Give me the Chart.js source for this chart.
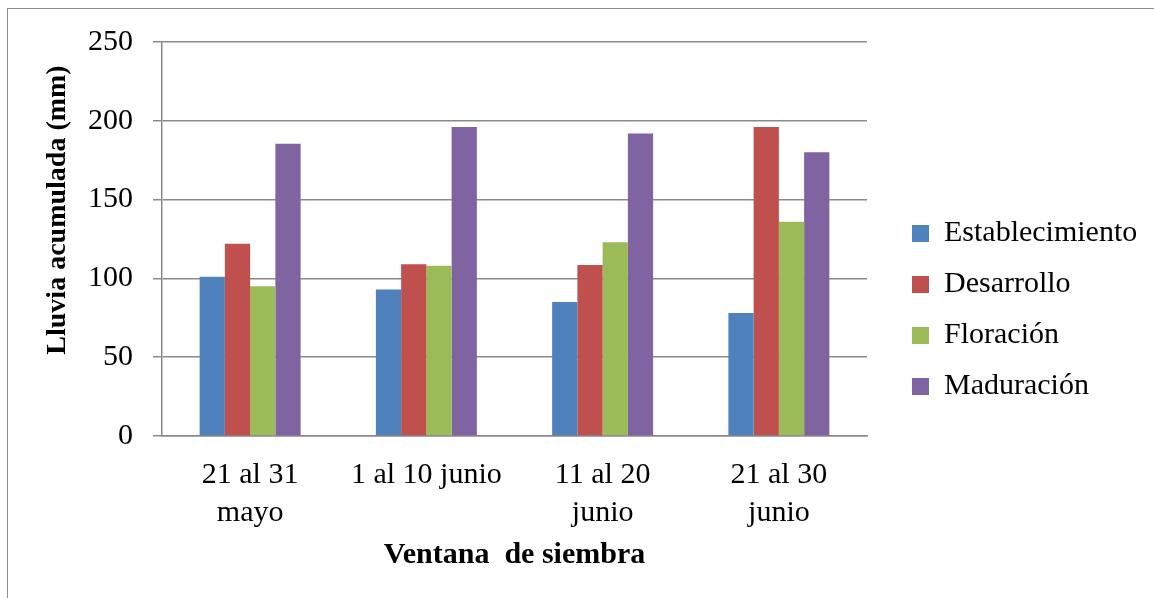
<!DOCTYPE html>
<html>
<head>
<meta charset="utf-8">
<script src="https://cdn.jsdelivr.net/npm/chart.js@4/dist/chart.umd.min.js"></script>
<style>
  html, body { margin: 0; padding: 0; background: #fff; overflow: hidden; }
  #wrap { position: relative; width: 1154px; height: 598px; }
  #frame { position: absolute; left: 7px; top: 8px; width: 1200px; height: 700px;
           border: 1.5px solid #8c8c8c; box-sizing: border-box; }
  canvas { position: absolute; left: 0; top: 0; }
</style>
</head>
<body>
<div id="wrap">
  <div id="frame"></div>
  <canvas id="chart" width="1154" height="598"></canvas>
</div>
<script>
// Sowing windows (x categories)
const categories = [["21 al 31", "mayo"], "1 al 10 junio", ["11 al 20", "junio"], ["21 al 30", "junio"]];
// Accumulated rainfall (mm) per crop stage
const establecimiento = [101, 93, 85, 78];
const desarrollo      = [122, 109, 108.5, 196];
const floracion       = [95, 108, 123, 136];
const maduracion      = [185.5, 196, 192, 180];
const seriesNames = ["Establecimiento", "Desarrollo", "Floración", "Maduración"];
const yTitle = "Lluvia acumulada (mm)";
const xTitle = "Ventana  de siembra";

const FONT = "'Liberation Serif', 'Times New Roman', serif";
const GRID = "#8a8a8a";

// Layout constants for the plot box and the legend block
const PLOT_RIGHT = 867;      // right edge of the plotting area
const LEGEND_SHIFT_X = 24;   // gap between plot and legend entries
const LEGEND_SHIFT_Y = -10;  // nudge legend block upward

// Rotated y-axis title
const yTitlePlugin = {
  id: "yTitlePlugin",
  afterDraw(chart) {
    const ctx = chart.ctx;
    ctx.save();
    ctx.translate(58, 210);
    ctx.rotate(-Math.PI / 2);
    ctx.font = "bold 28px " + FONT;
    ctx.fillStyle = "#000";
    ctx.textAlign = "center";
    ctx.textBaseline = "middle";
    ctx.fillText(yTitle, 0, 0);
    ctx.restore();
  }
};

// Widen the legend box so the plot ends at PLOT_RIGHT, and offset its entries
const legendPlacePlugin = {
  id: "legendPlace",
  afterInit(chart) {
    const lg = chart.legend;
    if (!lg) return;
    const fit = lg.fit.bind(lg);
    lg.fit = function () {
      fit();
      this.width = chart.width - PLOT_RIGHT;
    };
    const draw = lg._draw.bind(lg);
    lg._draw = function () {
      this.ctx.save();
      this.ctx.translate(LEGEND_SHIFT_X, LEGEND_SHIFT_Y);
      draw();
      this.ctx.restore();
    };
  }
};

new Chart(document.getElementById("chart"), {
  type: "bar",
  data: {
    labels: categories,
    datasets: [
      { label: seriesNames[0], data: establecimiento, backgroundColor: "#4F81BD" },
      { label: seriesNames[1], data: desarrollo,      backgroundColor: "#C0504D" },
      { label: seriesNames[2], data: floracion,       backgroundColor: "#9BBB59" },
      { label: seriesNames[3], data: maduracion,      backgroundColor: "#8064A2" }
    ]
  },
  options: {
    responsive: false,
    animation: false,
    devicePixelRatio: 1,
    layout: { padding: { top: 42, left: 0, right: 0, bottom: 0 } },
    datasets: { bar: { categoryPercentage: 0.573, barPercentage: 1.0, borderWidth: 0 } },
    plugins: {
      tooltip: { enabled: false },
      legend: {
        position: "right",
        labels: {
          boxWidth: 17, boxHeight: 17, padding: 21,
          color: "#000",
          font: { family: FONT, size: 30 }
        }
      }
    },
    scales: {
      x: {
        grid: { display: false, drawTicks: false },
        border: { display: true, color: GRID, width: 1.5 },
        ticks: { color: "#000", padding: 20, font: { family: FONT, size: 30, lineHeight: 1.27 }, maxRotation: 0, autoSkip: false },
        title: { display: true, text: xTitle, color: "#000", font: { family: FONT, size: 30, weight: "bold", lineHeight: 1.2 }, padding: { top: 0, bottom: 25 } },
        afterFit(s) { s.height = 162; }
      },
      y: {
        min: 0, max: 250,
        ticks: { stepSize: 50, color: "#000", padding: 20, font: { family: FONT, size: 30 } },
        grid: { color: GRID, lineWidth: 1.5, tickLength: 9, tickColor: GRID },
        border: { display: true, color: GRID, width: 1.5 },
        afterFit(s) { s.width = 162; }
      }
    }
  },
  plugins: [yTitlePlugin, legendPlacePlugin]
});
</script>
</body>
</html>
